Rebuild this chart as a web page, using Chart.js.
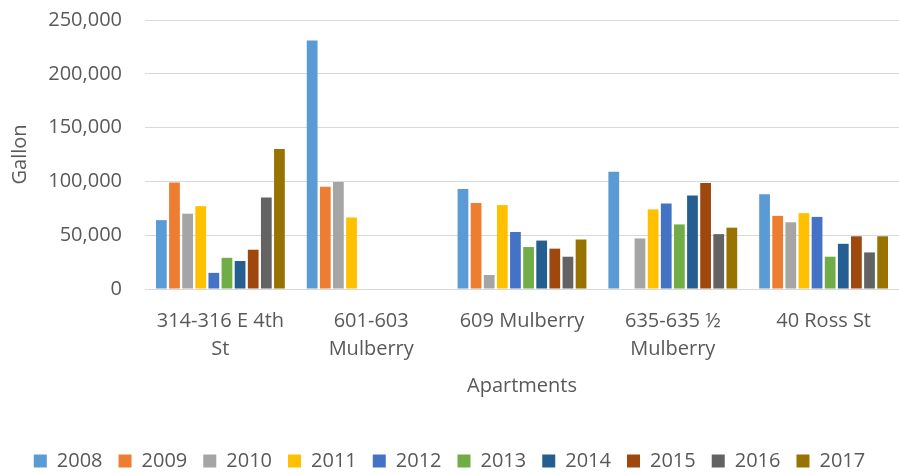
<!DOCTYPE html>
<html>
<head>
<meta charset="utf-8">
<script src="https://cdn.jsdelivr.net/npm/chart.js@4/dist/chart.umd.min.js"></script>
<style>
  html, body { margin: 0; padding: 0; background: #ffffff; }
  #wrap { width: 899px; height: 474px; position: relative; }
</style>
</head>
<body>
<div id="wrap"><canvas id="c"></canvas></div>
<script>
const categories = [
  ["314-316 E 4th", "St"],
  ["601-603", "Mulberry"],
  "609 Mulberry",
  ["635-635 \u00BD", "Mulberry"],
  "40 Ross St"
];
const years = ["2008","2009","2010","2011","2012","2013","2014","2015","2016","2017"];
const v2008 = [64000, 231000, 93000, 109000, 88000];
const v2009 = [99000, 95000, 80000, null, 68000];
const v2010 = [70000, 99500, 13000, 47000, 62000];
const v2011 = [77000, 66500, 78000, 74000, 70500];
const v2012 = [15000, null, 53000, 79500, 67000];
const v2013 = [29000, null, 39000, 60000, 30000];
const v2014 = [26000, null, 45000, 87000, 42000];
const v2015 = [36500, null, 37500, 98500, 49000];
const v2016 = [85000, null, 30000, 51000, 34000];
const v2017 = [130000, null, 46000, 57000, 49000];
const seriesValues = [v2008, v2009, v2010, v2011, v2012, v2013, v2014, v2015, v2016, v2017];
const colors = ["#5B9BD5","#ED7D31","#A5A5A5","#FFC000","#4472C4","#70AD47","#255E91","#9E480E","#636363","#997300"];
const yTicks = [0, 50000, 100000, 150000, 200000, 250000];

const FONT = "'Open Sans', 'Liberation Sans', sans-serif";
const TXT = "#595959";

const datasets = years.map((y, i) => ({
  label: y,
  data: seriesValues[i],
  backgroundColor: colors[i],
  borderWidth: 0,
  categoryPercentage: 0.87,
  barPercentage: 0.82
}));

new Chart(document.getElementById('c'), {
  type: 'bar',
  data: { labels: categories, datasets },
  options: {
    responsive: true,
    maintainAspectRatio: false,
    animation: false,
    layout: { padding: { top: 20, left: 0, right: 0, bottom: -7 } },
    plugins: {
      tooltip: { enabled: false },
      legend: {
        position: 'bottom',
        labels: {
          boxWidth: 13,
          boxHeight: 13,
          padding: 16,
          color: TXT,
          font: { family: FONT, size: 20 }
        }
      }
    },
    scales: {
      x: {
        offset: true,
        grid: { display: false, drawTicks: false },
        border: { display: false },
        ticks: {
          color: TXT,
          padding: 18,
          maxRotation: 0,
          autoSkip: false,
          font: { family: FONT, size: 20, lineHeight: 1.4 }
        },
        title: {
          display: true,
          text: 'Apartments',
          color: TXT,
          font: { family: FONT, size: 20 },
          padding: { top: 4, bottom: 37 }
        },
        afterFit: (s) => { s.height = 146; }
      },
      y: {
        min: 0,
        max: 250000,
        afterBuildTicks: (s) => { s.ticks = yTicks.map(v => ({ value: v })); },
        grid: { color: '#D9D9D9', lineWidth: 1, drawTicks: false },
        border: { display: false },
        ticks: {
          color: TXT,
          padding: 23,
          font: { family: FONT, size: 20 },
          callback: (v) => v.toLocaleString('en-US')
        },
        title: {
          display: true,
          text: 'Gallon',
          color: TXT,
          font: { family: FONT, size: 20 },
          padding: { top: 8, bottom: 4 }
        },
        afterFit: (s) => { s.width = 145; s.paddingTop = 0; s.paddingBottom = 0; }
      }
    }
  }
});
</script>
</body>
</html>
